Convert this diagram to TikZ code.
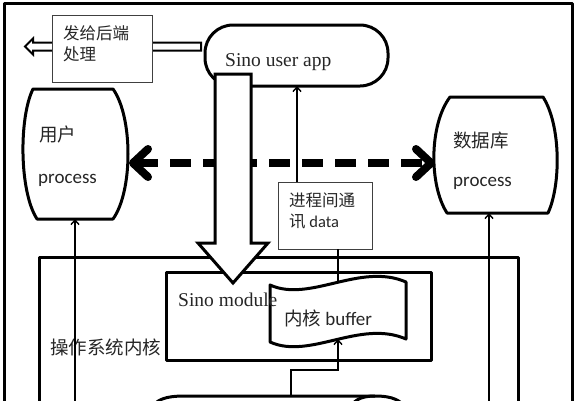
\documentclass[tikz,border=0pt]{standalone}
\usepackage{fontspec}
\setmainfont{Liberation Serif}
\newfontfamily\calfont{Carlito}
\newfontfamily\cjk{Noto Sans CJK SC}
\usetikzlibrary{arrows.meta}
\newcommand\cjkS{\cjk\fontsize{16.5}{20}\selectfont}
\newcommand\cjkL{\cjk\fontsize{18.5}{22}\selectfont}
\newcommand\calS{\calfont\fontsize{16.5}{20}\selectfont}
\newcommand\calL{\calfont\fontsize{19}{22}\selectfont}
\newcommand\serL{\rmfamily\fontsize{19.5}{23}\selectfont}
\begin{document}
\begin{tikzpicture}[x=1pt,y=-1pt,
  heavy/.style={line width=3pt, line join=round},
  thinbox/.style={draw=black!75, line width=0.9pt, fill=white},
  lbl/.style={inner sep=0pt, anchor=west, text=black!85},
  thinarrow/.style={line width=1.4pt, -{Straight Barb[length=4.5pt,width=8pt]}},
  ]
\useasboundingbox (0,0) rectangle (577,400);
\clip (0,0) rectangle (577,400);
\fill[white] (0,0) rectangle (577,400);

% outer border
\draw[heavy] (4,3) rectangle (572,430);

% kernel box and module box
\draw[heavy] (39,257) rectangle (518,430);
\draw[heavy] (166,272) rectangle (431,360);

% left hollow arrow (behind the box)
\draw[line width=2pt, fill=white, line join=miter]
  (201,42.5) -- (33,42.5) -- (33,38.5) -- (25,46.5) -- (33,54.5) -- (33,50.5) -- (201,50.5) -- cycle;
\node[thinbox, minimum width=100pt, minimum height=67pt, inner sep=0pt] (send) at (102,48.5) {};
\node[lbl] (t1) at (63,33) {\cjkS 发给后端};
\node[lbl] (t2) at (63,54) {\cjkS 处理};

% Sino user app
\node[draw, heavy, fill=white, rounded corners=28pt, minimum width=183pt, minimum height=61pt, inner sep=0pt] (app) at (296.5,55.5) {};
\node[lbl] (apptext) at (225,62) {\serL Sino user app};

% user process barrel
\draw[heavy, fill=white] (33,89) -- (113,89) .. controls (133,117) and (133,191) .. (113,219)
  -- (37,219) .. controls (19,191) and (19,117) .. (33,89) -- cycle;
\coordinate (userR) at (129,163);
\coordinate (userB) at (75,219);
\node[lbl] (u1) at (39,134) {\cjkL 用户};
\node[lbl] (u2) at (38,180) {\calL process};

% database process barrel
\draw[heavy, fill=white] (450,97) -- (543,97) .. controls (561,125) and (561,185) .. (548,213)
  -- (447,213) .. controls (429,185) and (429,125) .. (450,97) -- cycle;
\coordinate (dbL) at (435,163);
\coordinate (dbB) at (489,213);
\node[lbl] (d1) at (453,140) {\cjkL 数据库};
\node[lbl] (d2) at (453,183) {\calL process};

% dashed thick double arrow
\draw[line width=8pt, dash pattern=on 21pt off 12pt,
  {Straight Barb[round,length=15pt,width=28pt]}-{Straight Barb[round,length=15pt,width=28pt]}]
  (userR) -- (dbL);

% IPC data box
\node[thinbox, minimum width=94pt, minimum height=67pt, inner sep=0pt] (ipc) at (325,215.5) {};
\node[lbl] (i1) at (289,200) {\cjkS 进程间通};
\node[lbl] (i2) at (289,222) {\cjkS 讯 \calS data};
\coordinate (ipcT) at (297,182);
\coordinate (appB) at (297,86);
\draw[thinarrow] (ipcT) -- (appB);

% big hollow arrow from app down to module
\draw[heavy, fill=white, line join=miter]
  (215,74) -- (251,74) -- (251,243) -- (268,243) -- (233,283) -- (198,243) -- (215,243) -- cycle;

% kernel buffer (tape)
\draw[heavy, fill=white] (270,285) .. controls (310,303) and (360,262) .. (406,282)
  -- (406,339) .. controls (360,319) and (310,360) .. (270,342) -- cycle;
\coordinate (bufT) at (338,282);
\coordinate (bufB) at (338,339);
\coordinate (ipcB) at (338,249);
\draw[line width=1.4pt] (ipcB) -- (bufT);
\node[lbl] (b1) at (284,318) {\cjkL 内核 \calL buffer};
\node[lbl] (m1) at (178,300) {\serL Sino module};
\node[lbl] (k1) at (50,347) {\cjkL 操作系统内核};

% bottom cylinder (partly visible)
\draw[heavy] (150,410) .. controls (156,399) and (166,396) .. (185,396) -- (375,396)
  .. controls (392,396) and (402,400) .. (406,410);
\draw[heavy] (350,410) .. controls (352,401) and (360,396) .. (375,396);
\coordinate (cylT) at (291,396);
\draw[thinarrow] (cylT) -- (291,370) -- (338,370) -- (bufB);

% arrows from below to the processes
\coordinate (ubot) at (75,410);
\coordinate (dbot) at (489,410);
\draw[thinarrow] (ubot) -- (userB);
\draw[thinarrow] (dbot) -- (dbB);
\end{tikzpicture}
\end{document}
